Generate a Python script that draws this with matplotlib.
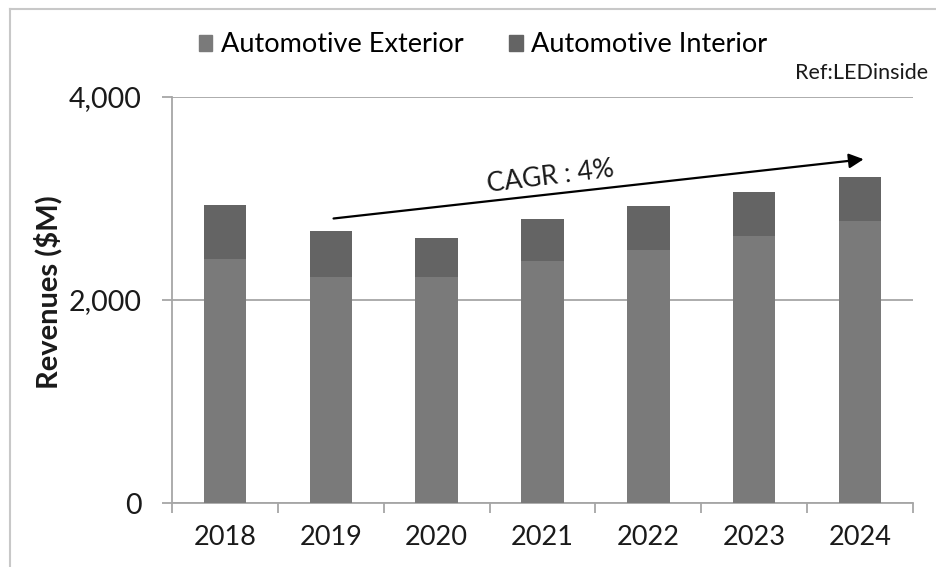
import matplotlib
matplotlib.use("Agg")
import matplotlib.pyplot as plt
from matplotlib.patches import Patch
from matplotlib.lines import Line2D

years = ["2018", "2019", "2020", "2021", "2022", "2023", "2024"]
exterior = [2400, 2230, 2230, 2385, 2495, 2630, 2775]
interior = [540, 445, 385, 415, 430, 430, 435]
yticks = [0, 2000, 4000]
ytick_labels = ["0", "2,000", "4,000"]

col_ext = "#7a7a7a"
col_int = "#646464"
grid_col = "#a6a6a6"

plt.rcParams['font.family'] = ['Lato', 'DejaVu Sans']

fig = plt.figure(figsize=(9.36, 5.67), dpi=100)
ax = fig.add_axes([172 / 936, 1 - 503 / 567, (913 - 172) / 936, (503 - 97) / 567])

x = range(len(years))
ax.bar(x, exterior, width=0.4, color=col_ext, label="Automotive Exterior", zorder=3)
ax.bar(x, interior, width=0.4, bottom=exterior, color=col_int,
       label="Automotive Interior", zorder=3)

ax.set_xlim(-0.5, len(years) - 0.5)
ax.set_ylim(0, 4000)
ax.set_yticks(yticks)
ax.set_yticklabels(ytick_labels)
ax.set_xticks(list(x))
ax.set_xticklabels(years)
ax.set_xticks([i - 0.5 for i in range(len(years) + 1)], minor=True)

ax.tick_params(axis="x", which="major", length=0, pad=16, labelsize=19.5, colors="#1a1a1a")
ax.tick_params(axis="x", which="minor", length=7, width=1.3, color=grid_col)
ax.tick_params(axis="y", length=7, width=1.3, color=grid_col, pad=15, labelsize=20.5,
               labelcolor="#1a1a1a")

ax.yaxis.grid(True, color=grid_col, linewidth=1.3, zorder=0)
ax.set_axisbelow(True)
for s in ["top", "right"]:
    ax.spines[s].set_visible(False)
for s in ["left", "bottom"]:
    ax.spines[s].set_color(grid_col)
    ax.spines[s].set_linewidth(1.3)

ax.set_ylabel("Revenues ($M)", fontsize=21, fontweight="bold", color="#1a1a1a")
ax.yaxis.set_label_coords(-0.148, 0.52)

# CAGR arrow
ax.annotate("", xy=(6.06, 3390), xytext=(1.0, 2800),
            arrowprops=dict(arrowstyle="-|>", color="black", lw=1.6, mutation_scale=22),
            zorder=5)
ax.text(3.08, 3215, "CAGR : 4%", fontsize=19, rotation=7, ha="center", va="center",
        color="#1a1a1a", zorder=5)

# legend
handles = [Patch(color=col_ext), Patch(color=col_int)]
fig.legend(handles, ["Automotive Exterior", "Automotive Interior"], loc="center",
           bbox_to_anchor=(483 / 936, 1 - 45 / 567), ncol=2, frameon=False, fontsize=19.5,
           handlelength=0.5, handleheight=0.5, handletextpad=0.3, columnspacing=1.7)

fig.text(928 / 936, 1 - 73 / 567, "Ref:LEDinside", fontsize=15.5, ha="right", va="center",
         color="#1a1a1a")

# outer frame (cut off at right and bottom)
fig.add_artist(Line2D([10 / 936, 1], [1 - 9 / 567, 1 - 9 / 567], color="#c8c8c8", lw=1.5))
fig.add_artist(Line2D([10 / 936, 10 / 936], [0, 1 - 9 / 567], color="#c8c8c8", lw=1.5))

fig.savefig("out.png", dpi=100)
